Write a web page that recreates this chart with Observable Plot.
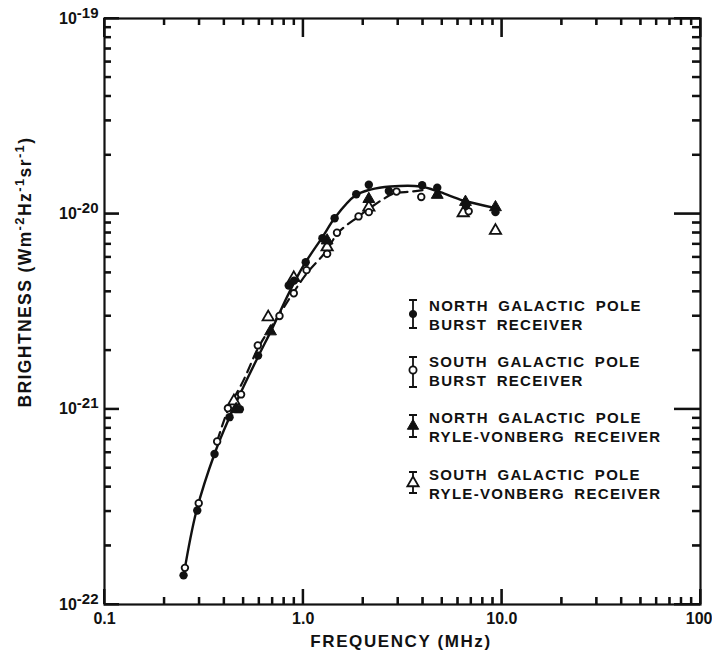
<!DOCTYPE html>
<html><head><meta charset="utf-8">
<script src="https://cdn.jsdelivr.net/npm/d3@7"></script>
<script src="https://cdn.jsdelivr.net/npm/@observablehq/plot@0.6"></script>
<style>
body{margin:0;background:#fff;}
#chart svg{display:block;}
</style>
</head><body><div id="chart"></div>
<script>
// ---- tick values & labels ----
const xMajor = [0.1, 1, 10, 100];
const xMajorLabels = ["0.1", "1.0", "10.0", "100"];
const xMinor = [0.2,0.3,0.4,0.5,0.6,0.7,0.8,0.9, 2,3,4,5,6,7,8,9, 20,30,40,50,60,70,80,90];
const yMajor = [1e-22, 1e-21, 1e-20, 1e-19];
const yMajorExp = ["-22", "-21", "-20", "-19"];
const yMinor = [2e-22,3e-22,4e-22,5e-22,6e-22,7e-22,8e-22,9e-22, 2e-21,3e-21,4e-21,5e-21,6e-21,7e-21,8e-21,9e-21, 2e-20,3e-20,4e-20,5e-20,6e-20,7e-20,8e-20,9e-20];

// ---- North Galactic Pole, burst receiver (filled circles) ----
const nbFreq   = [0.25, 0.293, 0.358, 0.426, 0.46, 0.48, 0.593, 0.846, 0.9, 1.03, 1.25, 1.44, 1.85, 2.14, 2.7, 3.97, 4.73, 6.6, 9.29];
const nbBright = [1.41e-22, 3.03e-22, 5.9e-22, 9.1e-22, 1.0e-21, 1.0e-21, 1.88e-21, 4.3e-21, 4.55e-21, 5.65e-21, 7.5e-21, 9.5e-21, 1.26e-20, 1.41e-20, 1.31e-20, 1.40e-20, 1.36e-20, 1.1e-20, 1.02e-20];
// ---- South Galactic Pole, burst receiver (open circles) ----
const sbFreq   = [0.254, 0.298, 0.369, 0.418, 0.487, 0.591, 0.76, 0.897, 1.04, 1.32, 1.48, 1.9, 2.14, 2.95, 3.93, 6.81];
const sbBright = [1.54e-22, 3.3e-22, 6.83e-22, 1.01e-21, 1.19e-21, 2.12e-21, 3.0e-21, 3.92e-21, 5.15e-21, 6.24e-21, 8.0e-21, 9.7e-21, 1.02e-20, 1.30e-20, 1.22e-20, 1.03e-20];
// ---- North Galactic Pole, Ryle-Vonberg receiver (filled triangles) ----
const nrvFreq   = [0.46, 0.685, 1.32, 2.14, 4.73, 6.56, 9.29];
const nrvBright = [1.0e-21, 2.5e-21, 7.3e-21, 1.19e-20, 1.25e-20, 1.15e-20, 1.08e-20];
// ---- South Galactic Pole, Ryle-Vonberg receiver (open triangles) ----
const srvFreq   = [0.448, 0.667, 0.897, 1.32, 2.14, 6.39, 9.29];
const srvBright = [1.1e-21, 2.96e-21, 4.7e-21, 6.75e-21, 1.08e-20, 1.01e-20, 8.2e-21];
// ---- fitted curves ----
const solidFreq   = [0.25, 0.29, 0.36, 0.43, 0.5, 0.6, 0.7, 0.85, 1.0, 1.25, 1.45, 1.83, 2.18, 2.75, 3.9, 4.9, 6.4, 9.3];
const solidBright = [1.4e-22, 3.0e-22, 6.0e-22, 9.3e-22, 1.3e-21, 1.9e-21, 2.6e-21, 3.95e-21, 5.4e-21, 7.6e-21, 9.6e-21, 1.24e-20, 1.33e-20, 1.38e-20, 1.38e-20, 1.29e-20, 1.17e-20, 1.07e-20];
const dashFreq   = [0.37, 0.42, 0.5, 0.6, 0.75, 0.9, 1.05, 1.3, 1.5, 1.9, 2.25, 2.5, 2.85, 3.5, 4.2];
const dashBright = [6.9e-22, 1.0e-21, 1.4e-21, 2.1e-21, 3.0e-21, 4.0e-21, 5.0e-21, 6.4e-21, 8.0e-21, 9.7e-21, 1.1e-20, 1.18e-20, 1.27e-20, 1.3e-20, 1.33e-20];

// ---- legend text ----
const legendLines = [
  ["NORTH GALACTIC POLE", "BURST RECEIVER"],
  ["SOUTH GALACTIC POLE", "BURST RECEIVER"],
  ["NORTH GALACTIC POLE", "RYLE-VONBERG RECEIVER"],
  ["SOUTH GALACTIC POLE", "RYLE-VONBERG RECEIVER"]
];

const INK = "#111";
const FONT = "'Liberation Sans', Arial, sans-serif";
const W = 712, H = 653, ML = 104, MR = 12, MT = 18, MB = 49;
const IW = W - ML - MR, IH = H - MT - MB;

const toRows = (fx, fy) => fx.map((f, i) => ({f, b: fy[i]}));
const nb = toRows(nbFreq, nbBright), sb = toRows(sbFreq, sbBright);
const nrv = toRows(nrvFreq, nrvBright), srv = toRows(srvFreq, srvBright);
const solid = toRows(solidFreq, solidBright), dash = toRows(dashFreq, dashBright);

const xLab = new Map(xMajor.map((v, i) => [v, xMajorLabels[i]]));
const yLab = new Map(yMajor.map((v, i) => [v, "10^" + yMajorExp[i]]));

const plot = Plot.plot({
  width: W, height: H,
  marginLeft: ML, marginRight: MR, marginTop: MT, marginBottom: MB,
  x: {type: "log", domain: [0.1, 100]},
  y: {type: "log", domain: [1e-22, 1e-19]},
  style: {fontFamily: FONT, fontWeight: 700, color: INK, background: "#fff"},
  marks: [
    Plot.frame({stroke: INK, fill: "none", strokeWidth: 2.2}),
    Plot.tickX(xMinor, {stroke: INK, strokeWidth: 2, insetTop: IH - 7}),
    Plot.tickX(xMinor, {stroke: INK, strokeWidth: 2, insetBottom: IH - 7}),
    Plot.tickX(xMajor, {stroke: INK, strokeWidth: 2, insetTop: IH - 15}),
    Plot.tickX(xMajor, {stroke: INK, strokeWidth: 2, insetBottom: IH - 19}),
    Plot.tickY(yMinor, {stroke: INK, strokeWidth: 2, insetRight: IW - 7}),
    Plot.tickY(yMinor, {stroke: INK, strokeWidth: 2, insetLeft: IW - 8}),
    Plot.tickY(yMajor, {stroke: INK, strokeWidth: 2, insetRight: IW - 15}),
    Plot.tickY(yMajor, {stroke: INK, strokeWidth: 2, insetLeft: IW - 26}),
    Plot.axisX({anchor: "bottom", ticks: xMajor, tickSize: 0, tickPadding: 8, label: null,
      tickFormat: d => xLab.get(d), fill: INK}),
    Plot.axisY({anchor: "left", ticks: yMajor, tickSize: 0, tickPadding: 6, label: null,
      tickFormat: d => yLab.get(d), fill: INK}),
    Plot.line(solid, {x: "f", y: "b", curve: "catmull-rom", stroke: INK, strokeWidth: 2.4}),
    Plot.line(dash, {x: "f", y: "b", curve: "catmull-rom", stroke: INK, strokeWidth: 2.2, strokeDasharray: "9,6"}),
    Plot.dot(srv, {x: "f", y: "b", symbol: "triangle", r: 4.2, stroke: INK, strokeWidth: 1.8, fill: "#fff"}),
    Plot.dot(nrv, {x: "f", y: "b", symbol: "triangle", r: 4.4, fill: INK, stroke: INK, strokeWidth: 1}),
    Plot.dot(sb, {x: "f", y: "b", r: 3.3, stroke: INK, strokeWidth: 1.8, fill: "#fff"}),
    Plot.dot(nb, {x: "f", y: "b", r: 4.2, fill: INK, stroke: "none"})
  ]
});

document.getElementById("chart").appendChild(plot);
const svg = d3.select(plot);

// filled-rectangle ticks as well, positioned through Plot's scales
try {
  const sX = plot.scale("x"), sY = plot.scale("y");
  const px = v => sX.apply(v), py = v => sY.apply(v);
  const X0 = ML, X1 = W - MR, Y0 = MT, Y1 = H - MB;
  const tg = svg.append("g").attr("fill", INK);
  const vt = (x, y, h) => tg.append("rect").attr("x", x - 1).attr("y", h > 0 ? y : y + h).attr("width", 2).attr("height", Math.abs(h));
  const ht = (x, y, w) => tg.append("rect").attr("x", w > 0 ? x : x + w).attr("y", y - 1).attr("width", Math.abs(w)).attr("height", 2);
  for (const v of xMinor) { const x = px(v); vt(x, Y1, -7); vt(x, Y0, 7); }
  for (const v of xMajor) { const x = px(v); vt(x, Y1, -15); vt(x, Y0, 19); }
  for (const v of yMinor) { const y = py(v); ht(X0, y, 7); ht(X1, y, -8); }
  for (const v of yMajor) { const y = py(v); ht(X0, y, 15); ht(X1, y, -26); }
} catch (e) {}

// x tick labels: size, and keep "100" inside the picture
svg.selectAll('g[aria-label="x-axis tick label"] text').each(function() {
  const t = d3.select(this);
  t.style("font-size", "16px");
  if (t.text() === "100") t.attr("text-anchor", "end").attr("dx", 12);
});
// superscript exponents on y tick labels
svg.selectAll('g[aria-label="y-axis tick label"] text').each(function() {
  const t = d3.select(this);
  const s = t.text();
  t.style("font-size", "16px");
  if (!s.includes("^")) return;
  const [base, exp] = s.split("^");
  t.text(null);
  t.append("tspan").text(base);
  t.append("tspan").attr("dy", -6).style("font-size", "15px").text(exp);
});

// axis titles
const g = svg.append("g").attr("fill", INK).attr("font-family", FONT).attr("font-weight", 700);
g.append("text")
  .attr("x", 401).attr("y", 647)
  .attr("text-anchor", "middle").style("font-size", "17px").attr("letter-spacing", 1.6)
  .text("FREQUENCY (MHz)");

const yl = g.append("text")
  .attr("transform", "translate(31,272) rotate(-90)")
  .attr("text-anchor", "middle").style("font-size", "17.5px").attr("letter-spacing", 1.4);
const yparts = [["BRIGHTNESS (Wm", 0], ["-2", 1], ["Hz", 0], ["-1", 1], ["sr", 0], ["-1", 1], [")", 0]];
let up = false;
for (const [txt, sup] of yparts) {
  const ts = yl.append("tspan").text(txt);
  if (sup) ts.style("font-size", "13px");
  if (sup && !up) { ts.attr("dy", -7); up = true; }
  else if (!sup && up) { ts.attr("dy", 7); up = false; }
}

// legend
const lg = svg.append("g").attr("font-family", FONT).attr("font-weight", 700).attr("fill", INK)
  .attr("text-anchor", "start");
const entryTop = [311, 367, 423, 480];
const barSpan = [[300, 328], [357, 387], [415, 437], [472, 493]];
const markY = [314, 370, 426, 483];
const sx = 413;
legendLines.forEach((lines, i) => {
  const [a, b] = barSpan[i];
  lg.append("path").attr("d", `M${sx},${a}V${b}M${sx-4},${a}H${sx+4}M${sx-4},${b}H${sx+4}`)
    .attr("stroke", INK).attr("stroke-width", 1.8).attr("fill", "none");
  const sym = i < 2 ? d3.symbolCircle : d3.symbolTriangle;
  const size = i < 2 ? Math.PI * 3.6 * 3.6 : Math.PI * 4.2 * 4.2;
  const filled = i % 2 === 0;
  lg.append("path").attr("d", d3.symbol(sym, size)())
    .attr("transform", `translate(${sx},${markY[i]})`)
    .attr("fill", filled ? INK : "#fff").attr("stroke", INK).attr("stroke-width", filled ? 1 : 1.8);
  lines.forEach((ln, j) => {
    lg.append("text").attr("x", 429).attr("y", entryTop[i] + j * 18.5)
      .attr("text-anchor", "start")
      .style("font-size", "15px").attr("letter-spacing", 1.3).attr("word-spacing", 4)
      .text(ln);
  });
});
</script>
</body></html>
